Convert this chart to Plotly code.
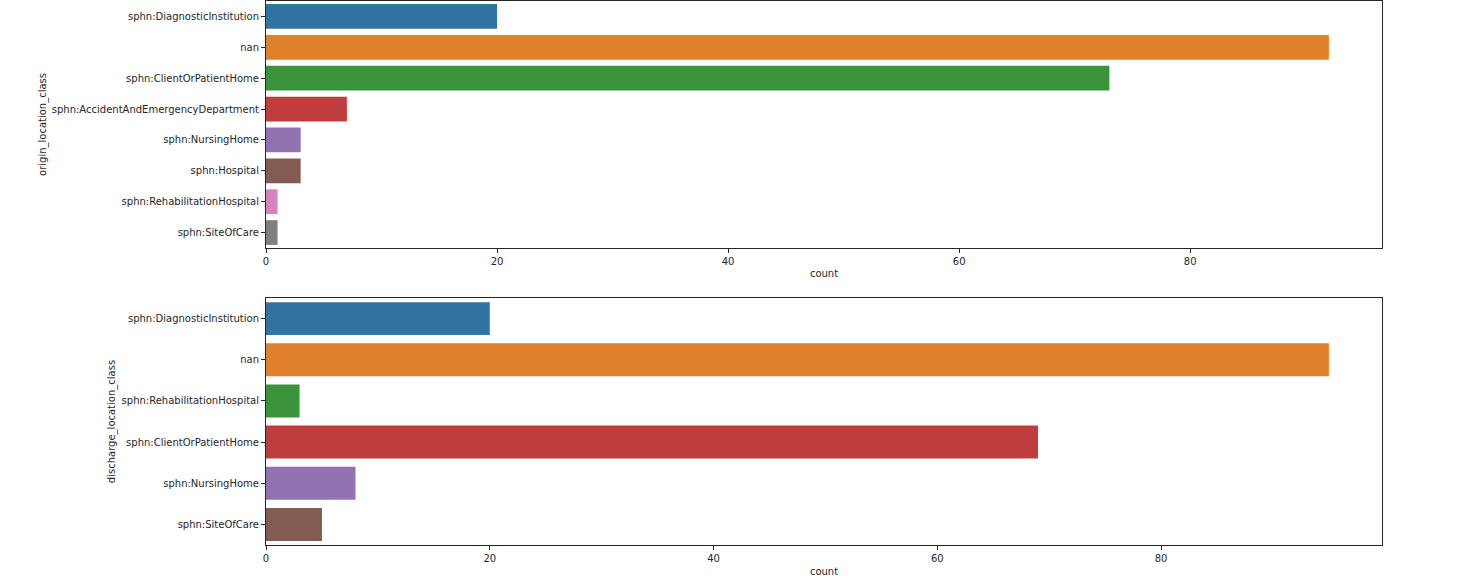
import plotly.graph_objects as go
from plotly.subplots import make_subplots

origin_classes = ["sphn:DiagnosticInstitution", "nan", "sphn:ClientOrPatientHome",
                  "sphn:AccidentAndEmergencyDepartment", "sphn:NursingHome", "sphn:Hospital",
                  "sphn:RehabilitationHospital", "sphn:SiteOfCare"]
origin_counts = [20, 92, 73, 7, 3, 3, 1, 1]

discharge_classes = ["sphn:DiagnosticInstitution", "nan", "sphn:RehabilitationHospital",
                     "sphn:ClientOrPatientHome", "sphn:NursingHome", "sphn:SiteOfCare"]
discharge_counts = [20, 95, 3, 69, 8, 5]

palette = ["#3274a1", "#e1812c", "#3a923a", "#c03d3e", "#9372b2", "#845b53", "#d684bd", "#7f7f7f"]

fig = make_subplots(rows=2, cols=1, vertical_spacing=0.092)

fig.add_trace(go.Bar(x=origin_counts, y=origin_classes, orientation="h", width=0.8,
                     marker=dict(color=palette[:len(origin_classes)], line=dict(width=0)),
                     showlegend=False), row=1, col=1)
fig.add_trace(go.Bar(x=discharge_counts, y=discharge_classes, orientation="h", width=0.8,
                     marker=dict(color=palette[:len(discharge_classes)], line=dict(width=0)),
                     showlegend=False), row=2, col=1)

axis_common = dict(showline=True, linecolor="#262626", linewidth=1, mirror=True,
                   ticks="outside", ticklen=4, tickcolor="#262626", showgrid=False,
                   zeroline=False, tickfont=dict(size=10, color="#262626"))

fig.update_xaxes(**axis_common, dtick=20, title=dict(text="count", font=dict(size=10, color="#262626"), standoff=4))
fig.update_yaxes(**axis_common)
fig.update_xaxes(range=[0, max(origin_counts) * 1.05], row=1, col=1)
fig.update_xaxes(range=[0, max(discharge_counts) * 1.05], row=2, col=1)
fig.update_yaxes(categoryorder="array", categoryarray=origin_classes,
                 range=[len(origin_classes) - 0.5, -0.5],
                 title=dict(text="origin_location_class", font=dict(size=10, color="#262626"), standoff=3),
                 row=1, col=1)
fig.update_yaxes(categoryorder="array", categoryarray=discharge_classes,
                 range=[len(discharge_classes) - 0.5, -0.5],
                 title=dict(text="discharge_location_class", font=dict(size=10, color="#262626"), standoff=4),
                 row=2, col=1)

fig.update_layout(
    width=1483, height=578,
    margin=dict(l=266, r=101, t=1, b=33),
    plot_bgcolor="white", paper_bgcolor="white",
    font=dict(family="DejaVu Sans", size=10, color="#262626"),
    bargap=0.2,
)
fig.layout.yaxis.domain = [0.546, 1.0]
fig.layout.yaxis2.domain = [0.0, 0.454]

fig.write_html("out.html", config={"displayModeBar": False},
               post_script="document.body.style.margin='0';document.body.style.overflow='hidden';")
